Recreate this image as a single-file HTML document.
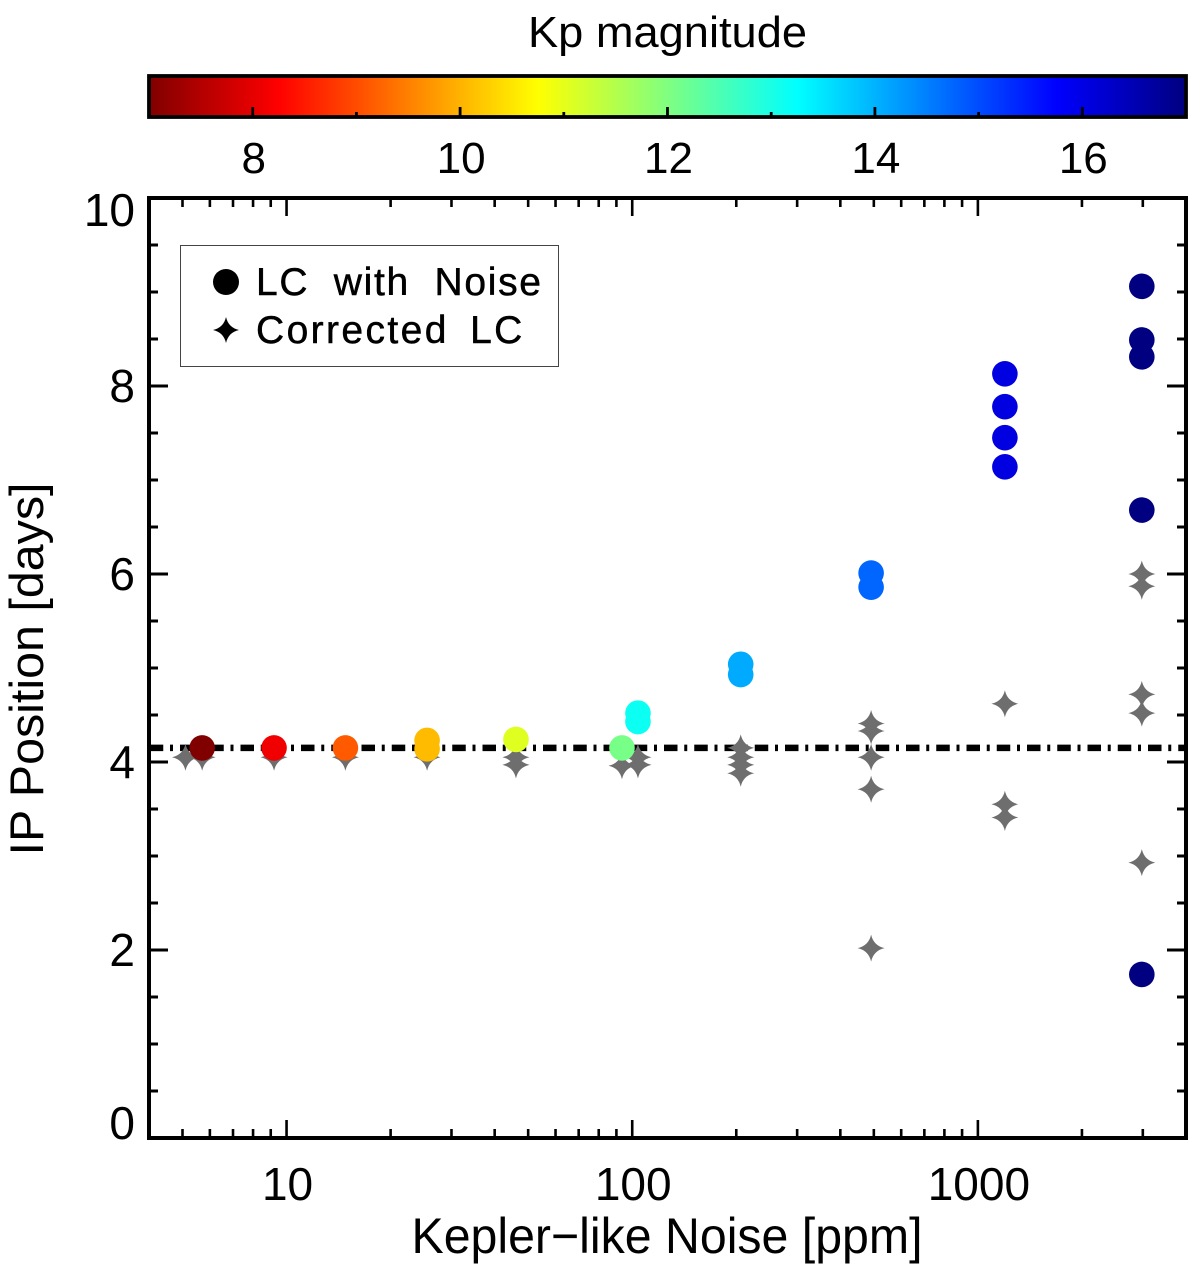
<!DOCTYPE html>
<html>
<head>
<meta charset="utf-8">
<title>IP Position vs Kepler-like Noise</title>
<style>
html,body{margin:0;padding:0;background:#fff;}
svg{display:block;}
text{font-family:"Liberation Sans",sans-serif;fill:#000;}
</style>
</head>
<body>
<svg id="chart" xmlns="http://www.w3.org/2000/svg" width="1200" height="1278" viewBox="0 0 1200 1278">
<defs>
<linearGradient id="kp-gradient" x1="0" x2="1" y1="0" y2="0"></linearGradient>
</defs>
<rect width="1200" height="1278" fill="#fff"/>
<g id="layer-colorbar"></g>
<g id="layer-axes"></g>
<g id="layer-ref"></g>
<g id="layer-stars"></g>
<g id="layer-circles"></g>
<g id="layer-legend">
  <rect x="180.5" y="245.5" width="378" height="121" fill="#fff" stroke="#444" stroke-width="1"/>
  <circle cx="226" cy="282" r="13" fill="#000"/>
  <path d="M226,317Q228.4,327.6 239,330Q228.4,332.4 226,343Q223.6,332.4 213,330Q223.6,327.6 226,317Z" fill="#000"/>
  <text x="256" y="295" font-size="39" letter-spacing="1.7" word-spacing="12" stroke="#000" stroke-width="0.5">LC with Noise</text>
  <text x="256" y="343" font-size="39" letter-spacing="2.4" word-spacing="8" stroke="#000" stroke-width="0.5">Corrected LC</text>
</g>
<text x="667.5" y="47" font-size="44" text-anchor="middle" textLength="279" lengthAdjust="spacingAndGlyphs">Kp magnitude</text>
<text x="667" y="1253" font-size="50" text-anchor="middle" textLength="511" lengthAdjust="spacingAndGlyphs">Kepler−like Noise [ppm]</text>
<text transform="translate(43,669) rotate(-90)" font-size="47" text-anchor="middle" textLength="373" lengthAdjust="spacingAndGlyphs">IP Position [days]</text>
</svg>
<script>
// --- chart data ---
const circleNoise = [5.7, 9.2, 14.8, 25.5, 25.5, 46.1, 93.4, 103.9, 103.9, 206, 206, 491, 491, 1197, 1197, 1197, 1197, 2980, 2980, 2980, 2980, 2980];
const circleIP = [4.15, 4.15, 4.15, 4.23, 4.14, 4.24, 4.15, 4.52, 4.43, 5.04, 4.93, 6.01, 5.86, 8.13, 7.78, 7.45, 7.14, 9.06, 8.49, 8.31, 6.68, 1.74];
const circleKp = [7.0, 8.1, 9.13, 10.08, 10.08, 11.06, 12.07, 13.13, 13.13, 14.08, 14.08, 14.75, 14.75, 16.05, 16.05, 16.05, 16.05, 17, 17, 17, 17, 17];
const starNoise = [5.1, 5.7, 9.2, 14.8, 25.5, 46.1, 46.1, 93.4, 103.9, 103.9, 206, 206, 206, 206, 491, 491, 491, 491, 491, 1197, 1197, 1197, 2980, 2980, 2980, 2980, 2980];
const starIP = [4.05, 4.05, 4.05, 4.05, 4.05, 4.05, 3.97, 3.96, 4.05, 3.97, 4.15, 4.05, 3.97, 3.88, 4.41, 4.33, 4.05, 3.71, 2.02, 4.62, 3.55, 3.41, 6.0, 5.87, 4.72, 4.52, 2.93];
const referenceIP = [4.15];
const xMajorTicks = [10, 100, 1000];
const xMinorTicks = [5, 6, 7, 8, 9, 20, 30, 40, 50, 60, 70, 80, 90, 200, 300, 400, 500, 600, 700, 800, 900, 2000, 3000];
const yMajorTicks = [0, 2, 4, 6, 8, 10];
const yMinorTicks = [0.5, 1, 1.5, 2.5, 3, 3.5, 4.5, 5, 5.5, 6.5, 7, 7.5, 8.5, 9, 9.5];
const kpMajorTicks = [8, 10, 12, 14, 16];
const kpMinorTicks = [9, 11, 13, 15];

// --- scales ---
const NS = 'http://www.w3.org/2000/svg';
const plot = {left: 149, right: 1186, top: 198, bottom: 1138};
const xDomain = [4, 4000];
const yDomain = [0, 10];
const kpDomain = [7, 17];
function xScale(v) {
  return plot.left + (Math.log10(v) - Math.log10(xDomain[0])) / (Math.log10(xDomain[1]) - Math.log10(xDomain[0])) * (plot.right - plot.left);
}
function yScale(v) {
  return plot.bottom - (v - yDomain[0]) / (yDomain[1] - yDomain[0]) * (plot.bottom - plot.top);
}
function kpScale(v) {
  return plot.left + (v - kpDomain[0]) / (kpDomain[1] - kpDomain[0]) * (plot.right - plot.left);
}
function jetColor(kp) {
  const t = 1 - (kp - kpDomain[0]) / (kpDomain[1] - kpDomain[0]);
  const ramp = function (c) { return Math.max(0, Math.min(1, 1.5 - Math.abs(4 * t - c))); };
  const r = Math.round(255 * ramp(3));
  const g = Math.round(255 * ramp(2));
  const b = Math.round(255 * ramp(1));
  return 'rgb(' + r + ',' + g + ',' + b + ')';
}
function mk(tag, attrs, parent, txt) {
  const el = document.createElementNS(NS, tag);
  for (const k in attrs) el.setAttribute(k, attrs[k]);
  if (txt !== undefined) el.textContent = txt;
  parent.appendChild(el);
  return el;
}
function starPath(cx, cy, r) {
  const c = r * 0.18;
  return 'M' + cx + ',' + (cy - r) +
    'Q' + (cx + c) + ',' + (cy - c) + ' ' + (cx + r) + ',' + cy +
    'Q' + (cx + c) + ',' + (cy + c) + ' ' + cx + ',' + (cy + r) +
    'Q' + (cx - c) + ',' + (cy + c) + ' ' + (cx - r) + ',' + cy +
    'Q' + (cx - c) + ',' + (cy - c) + ' ' + cx + ',' + (cy - r) + 'Z';
}

// --- colorbar ---
const gradient = document.getElementById('kp-gradient');
for (let i = 0; i <= 40; i++) {
  const kp = kpDomain[0] + (kpDomain[1] - kpDomain[0]) * i / 40;
  mk('stop', {offset: (i / 40), 'stop-color': jetColor(kp)}, gradient);
}
const cbLayer = document.getElementById('layer-colorbar');
const cbTop = 76, cbBottom = 117;
const cbRamp = mk('rect', {x: plot.left, y: cbTop, width: plot.right - plot.left, height: cbBottom - cbTop, fill: 'url(#kp-gradient)', stroke: '#000', 'stroke-width': 3.8}, cbLayer);


kpMajorTicks.forEach(function (v) {
  const t = mk('line', {x1: kpScale(v), x2: kpScale(v), y1: cbBottom, y2: cbBottom - 10, stroke: '#000', 'stroke-width': 2.8}, cbLayer);
  
  
  const l = mk('text', {x: kpScale(v) + 1, y: 173, 'font-size': 44, 'text-anchor': 'middle'}, cbLayer, String(v));
  
  
});
kpMinorTicks.forEach(function (v) {
  const t = mk('line', {x1: kpScale(v), x2: kpScale(v), y1: cbBottom, y2: cbBottom - 5, stroke: '#000', 'stroke-width': 2.8}, cbLayer);
  
  
});

// --- axes ---
const axLayer = document.getElementById('layer-axes');
const frame = mk('rect', {x: plot.left, y: plot.top, width: plot.right - plot.left, height: plot.bottom - plot.top, fill: 'none', stroke: '#000', 'stroke-width': 4}, axLayer);


function xTick(v, len) {
  const x = xScale(v);
  const a = mk('line', {x1: x, x2: x, y1: plot.bottom, y2: plot.bottom - len, stroke: '#000', 'stroke-width': 2.6}, axLayer);
  
  
  const b = mk('line', {x1: x, x2: x, y1: plot.top, y2: plot.top + len, stroke: '#000', 'stroke-width': 2.6}, axLayer);
  
  
}
function yTick(v, len) {
  const y = yScale(v);
  const a = mk('line', {x1: plot.left, x2: plot.left + len, y1: y, y2: y, stroke: '#000', 'stroke-width': 3}, axLayer);
  
  
  const b = mk('line', {x1: plot.right, x2: plot.right - len, y1: y, y2: y, stroke: '#000', 'stroke-width': 3}, axLayer);
  
  
}
xMajorTicks.forEach(function (v) {
  xTick(v, 18);
  const l = mk('text', {x: xScale(v) + 1, y: 1200, 'font-size': 46, 'text-anchor': 'middle'}, axLayer, String(v));
  
  
});
xMinorTicks.forEach(function (v) { xTick(v, 9); });
yMajorTicks.forEach(function (v) {
  yTick(v, 19);
  const base = Math.max(226, Math.min(1139, yScale(v) + 16));
  const l = mk('text', {x: 135, y: base, 'font-size': 46, 'text-anchor': 'end'}, axLayer, String(v));
  
  
});
yMinorTicks.forEach(function (v) { yTick(v, 9); });

// --- reference line ---
const refLayer = document.getElementById('layer-ref');
referenceIP.forEach(function (v) {
  const line = mk('line', {x1: plot.left, x2: plot.right, y1: yScale(v), y2: yScale(v), stroke: '#000', 'stroke-width': 6.5, 'stroke-dasharray': '13.5 6.75 3 7', 'stroke-dashoffset': -0.75}, refLayer);
  
  
});

// --- series ---
const starLayer = document.getElementById('layer-stars');
starNoise.forEach(function (n, i) {
  const s = mk('path', {d: starPath(xScale(n), yScale(starIP[i]), 13.5), fill: '#6e6e6e'}, starLayer);
  
  
});
const circleLayer = document.getElementById('layer-circles');
circleNoise.forEach(function (n, i) {
  const c = mk('circle', {cx: xScale(n), cy: yScale(circleIP[i]), r: 12.8, fill: jetColor(circleKp[i])}, circleLayer);
  
  
});
</script>
</body>
</html>
